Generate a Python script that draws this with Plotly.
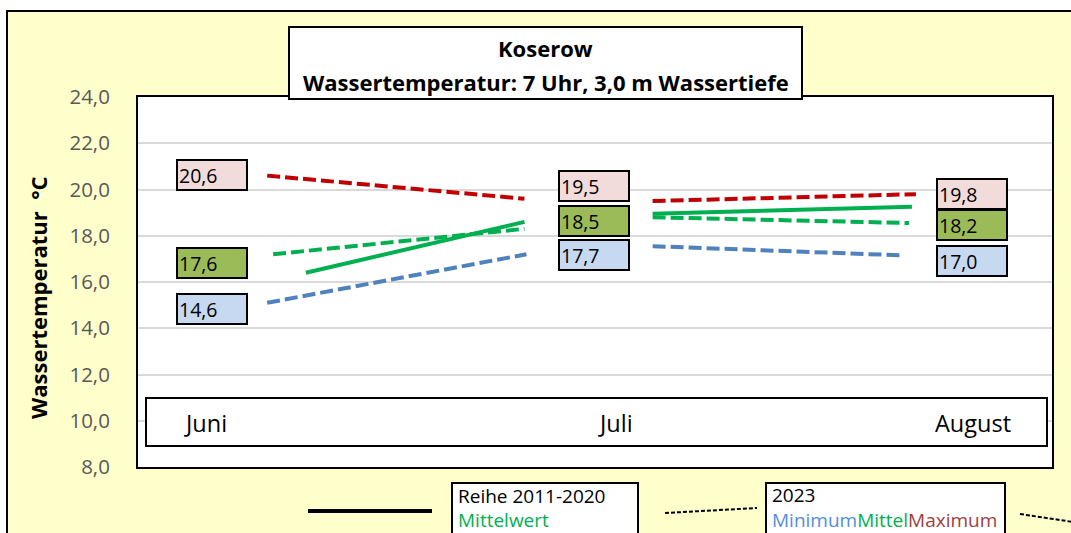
import plotly.graph_objects as go

# Monatswerte 2023 (Beschriftungsfelder)
monate = ["Juni", "Juli", "August"]
maximum_2023 = [20.6, 19.5, 19.8]
mittel_2023 = [17.6, 18.5, 18.2]
minimum_2023 = [14.6, 17.7, 17.0]

# Linienverläufe: Tag ab 1. Juni und Wassertemperatur in °C
max_tage = [13.0, 38.9, None, 51.8, 78.3]
max_werte = [20.6, 19.6, None, 19.5, 19.8]
mittel_tage = [13.6, 38.9, None, 51.8, 77.6]
mittel_werte = [17.2, 18.3, None, 18.8, 18.55]
min_tage = [13.0, 39.1, None, 51.8, 77.0]
min_werte = [15.1, 17.2, None, 17.55, 17.15]
reihe_tage = [16.9, 38.9, None, 51.8, 77.9]
reihe_werte = [16.4, 18.6, None, 18.95, 19.25]

y_ticks = [8, 10, 12, 14, 16, 18, 20, 22, 24]

W, H = 1071, 533
PL, PR, PT, PB = 138, 1052, 97, 467  # Zeichenfläche in Pixeln
FONT = "Open Sans, Lato, sans-serif"

ROT = "#C00000"
GRUEN = "#00B050"
BLAU = "#4F81BD"


def px(x):
    return (x - PL) / (PR - PL)


def py(y):
    return (PB - y) / (PB - PT)


fig = go.Figure()

fig.add_trace(go.Scatter(x=reihe_tage, y=reihe_werte, mode="lines",
                         line=dict(color=GRUEN, width=4), connectgaps=False,
                         showlegend=False, hoverinfo="skip"))
fig.add_trace(go.Scatter(x=min_tage, y=min_werte, mode="lines",
                         line=dict(color=BLAU, width=4, dash="13px,5px"),
                         connectgaps=False, showlegend=False, hoverinfo="skip"))
fig.add_trace(go.Scatter(x=mittel_tage, y=mittel_werte, mode="lines",
                         line=dict(color=GRUEN, width=4, dash="13px,5px"),
                         connectgaps=False, showlegend=False, hoverinfo="skip"))
fig.add_trace(go.Scatter(x=max_tage, y=max_werte, mode="lines",
                         line=dict(color=ROT, width=4, dash="13px,5px"),
                         connectgaps=False, showlegend=False, hoverinfo="skip"))

shapes = []
# Hintergrund des Diagramms
shapes.append(dict(type="rect", xref="paper", yref="paper", layer="below",
                   x0=px(7), x1=px(1100), y0=py(570), y1=py(11),
                   fillcolor="#FFFFCC", line=dict(color="black", width=2)))
shapes.append(dict(type="rect", xref="paper", yref="paper", layer="below",
                   x0=0, x1=1, y0=0, y1=1, fillcolor="white", line=dict(width=0)))
# Kasten mit den Monatsnamen
shapes.append(dict(type="rect", xref="paper", yref="paper", layer="above",
                   x0=px(146), x1=px(1047), y0=py(446), y1=py(398),
                   fillcolor="white", line=dict(color="black", width=2)))
# Titelkasten
shapes.append(dict(type="rect", xref="paper", yref="paper", layer="above",
                   x0=px(289), x1=px(802), y0=py(99), y1=py(27),
                   fillcolor="white", line=dict(color="black", width=2)))
# Legende
shapes.append(dict(type="line", xref="paper", yref="paper", layer="above",
                   x0=px(308), x1=px(432), y0=py(511), y1=py(511),
                   line=dict(color="black", width=4)))
shapes.append(dict(type="rect", xref="paper", yref="paper", layer="above",
                   x0=px(452), x1=px(638), y0=py(560), y1=py(483),
                   fillcolor="white", line=dict(color="black", width=2)))
shapes.append(dict(type="line", xref="paper", yref="paper", layer="above",
                   x0=px(665), x1=px(757), y0=py(513), y1=py(508),
                   line=dict(color="black", width=2, dash="4px,2px")))
shapes.append(dict(type="rect", xref="paper", yref="paper", layer="above",
                   x0=px(766), x1=px(1005), y0=py(560), y1=py(483),
                   fillcolor="white", line=dict(color="black", width=2)))
shapes.append(dict(type="line", xref="paper", yref="paper", layer="above",
                   x0=px(1020), x1=px(1080), y0=py(514), y1=py(523),
                   line=dict(color="black", width=2, dash="4px,2px")))

annotations = []
# Titel
annotations.append(dict(xref="paper", yref="paper", x=px(545.5), y=py(48),
                        text="<b>Koserow</b>", showarrow=False,
                        xanchor="center", yanchor="middle",
                        font=dict(family=FONT, size=22, color="black")))
annotations.append(dict(xref="paper", yref="paper", x=px(545.5), y=py(82),
                        text="<b>Wassertemperatur: 7 Uhr, 3,0 m Wassertiefe</b>",
                        showarrow=False, xanchor="center", yanchor="middle",
                        font=dict(family=FONT, size=22, color="black")))
# Achsentitel
annotations.append(dict(xref="paper", yref="paper", x=px(38), y=py(298),
                        text="<b>Wassertemperatur\u00a0\u00a0°C</b>", textangle=-90,
                        showarrow=False, xanchor="center", yanchor="middle",
                        font=dict(family=FONT, size=22, color="black")))
# Monatsnamen
for name, cx in zip(monate, [205, 615, 973]):
    annotations.append(dict(xref="paper", yref="paper", x=px(cx), y=py(423),
                            text=name, showarrow=False,
                            xanchor="center", yanchor="middle",
                            font=dict(family=FONT, size=23.5, color="black")))

# Wertefelder 2023
felder = [
    (maximum_2023, "#F2DCDB", [1, 15, 0]),
    (mittel_2023, "#9BBB59", [-18, 3, 6]),
    (minimum_2023, "#C6D9F1", [5, -12, -2]),
]
spalten_x = [212, 594, 972]
for werte, farbe, versatz in felder:
    for wert, cx, dy in zip(werte, spalten_x, versatz):
        annotations.append(dict(
            xref="paper", yref="y", x=px(cx), y=wert, yshift=dy,
            text=f"{wert:.1f}".replace(".", ","), showarrow=False,
            xanchor="center", yanchor="middle", align="left",
            width=66, height=26, borderpad=1, borderwidth=2,
            bordercolor="black", bgcolor=farbe,
            font=dict(family=FONT, size=19.5, color="black")))

# Legendentexte
annotations.append(dict(xref="paper", yref="paper", x=px(456), y=py(496),
                        text="Reihe 2011-2020", showarrow=False,
                        xanchor="left", yanchor="middle",
                        font=dict(family=FONT, size=19, color="black")))
annotations.append(dict(xref="paper", yref="paper", x=px(456), y=py(520),
                        text="Mittelwert", showarrow=False,
                        xanchor="left", yanchor="middle",
                        font=dict(family=FONT, size=19, color=GRUEN)))
annotations.append(dict(xref="paper", yref="paper", x=px(770), y=py(495),
                        text="2023", showarrow=False,
                        xanchor="left", yanchor="middle",
                        font=dict(family=FONT, size=19, color="black")))
annotations.append(dict(xref="paper", yref="paper", x=px(770), y=py(520),
                        text=("<span style='color:#558ED5'>Minimum</span>"
                              "<span style='color:#00B050'>Mittel</span>"
                              "<span style='color:#A0403E'>Maximum</span>"),
                        showarrow=False, xanchor="left", yanchor="middle",
                        font=dict(family=FONT, size=19, color="black")))

fig.update_layout(
    width=W, height=H,
    margin=dict(l=PL, r=W - PR, t=PT, b=H - PB, pad=0),
    paper_bgcolor="white",
    plot_bgcolor="rgba(0,0,0,0)",
    separators=",.",
    showlegend=False,
    shapes=shapes,
    annotations=annotations,
    xaxis=dict(range=[0, 92], showticklabels=False, showgrid=False,
               zeroline=False, showline=True, mirror=True,
               linecolor="black", linewidth=2, ticks=""),
    yaxis=dict(range=[8, 24], tickvals=y_ticks, tickformat=".1f",
               showgrid=True, gridcolor="#D9D9D9", gridwidth=1.5,
               zeroline=False, showline=True, mirror=True,
               linecolor="black", linewidth=2, ticks="",
               ticklabelstandoff=22,
               tickfont=dict(family=FONT, size=20.5, color="#595959")),
)

fig.write_html("out.html")
